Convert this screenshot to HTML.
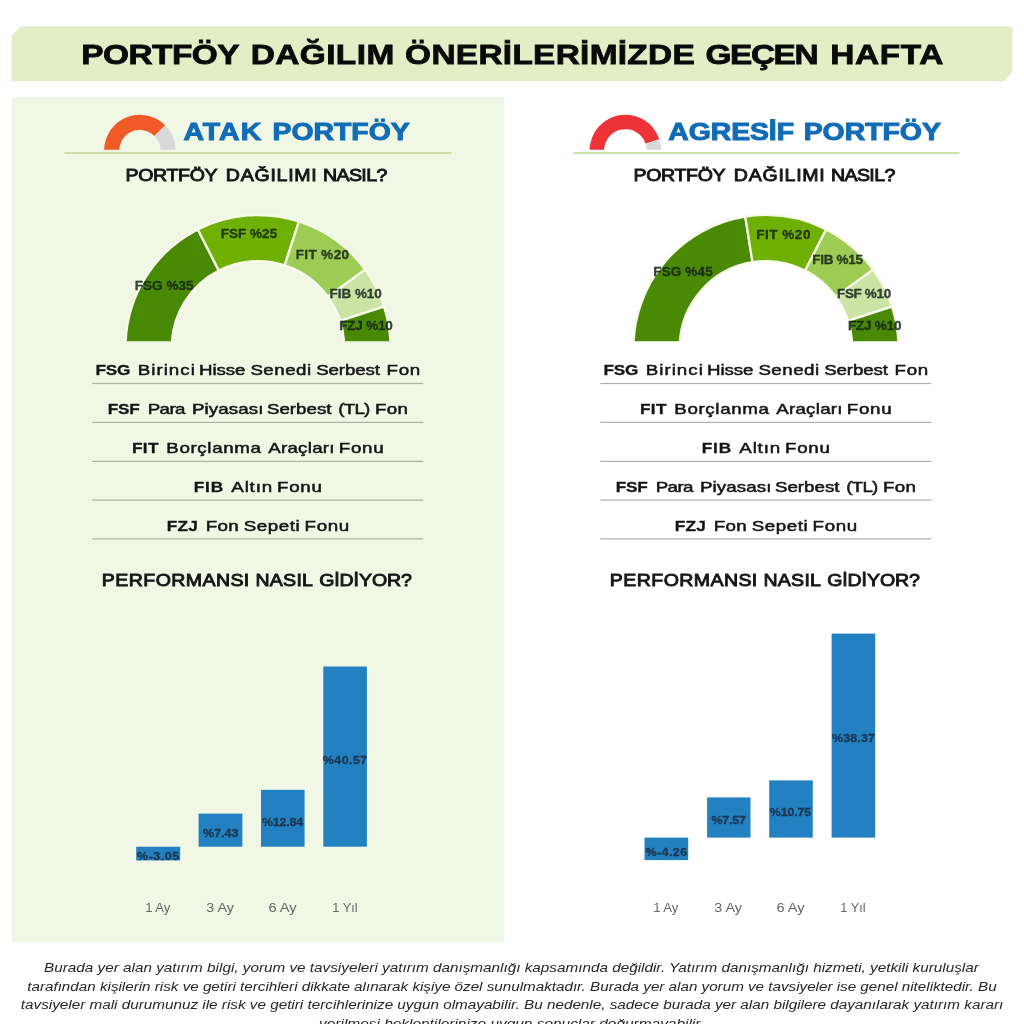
<!DOCTYPE html>
<html lang="tr"><head><meta charset="utf-8"><title>Portföy Dağılım Önerileri</title>
<style>html,body{margin:0;padding:0;background:#fff}body{width:1024px;height:1024px;overflow:hidden;position:relative}svg{display:block;position:absolute;left:0;top:0}text{font-family:"Liberation Sans",sans-serif;white-space:pre}</style></head><body>
<svg width="1024" height="1024" viewBox="0 0 1024 1024">
<polygon points="20.8,26.6 1012.6,26.6 1012.6,72.1 1003.4,81.3 11.6,81.3 11.6,35.8" fill="#e3eec6"/>
<rect x="11.5" y="96.8" width="492.8" height="845.8000000000001" fill="#f1f7e5"/>
<rect x="64.5" y="152.3" width="387" height="1.45" fill="#c0d88f"/>
<rect x="573" y="152.3" width="386.5" height="1.45" fill="#c0d88f"/>
<clipPath id="g1"><rect x="99.9" y="110.5" width="80" height="39.2"/></clipPath>
<g clip-path="url(#g1)">
<path d="M104.69,156.71 A35.75,35.75 0 0 1 165.18,125.22 L154.47,135.93 A20.6,20.6 0 0 0 119.61,154.08 Z" fill="#f05a27"/>
<path d="M165.18,125.22 A35.75,35.75 0 0 1 175.11,156.71 L160.19,154.08 A20.6,20.6 0 0 0 154.47,135.93 Z" fill="#d9d9d9"/>
</g>
<clipPath id="g2"><rect x="585.4" y="110.5" width="80" height="39.2"/></clipPath>
<g clip-path="url(#g2)">
<path d="M590.19,156.71 A35.75,35.75 0 0 1 659.30,139.16 L645.60,143.74 A21.3,21.3 0 0 0 604.42,154.20 Z" fill="#ee3338"/>
<path d="M659.30,139.16 A35.75,35.75 0 0 1 660.61,156.71 L646.38,154.20 A21.3,21.3 0 0 0 645.60,143.74 Z" fill="#d9d9d9"/>
</g>
<clipPath id="c1"><rect x="118" y="207.5" width="280" height="133.7"/></clipPath>
<g clip-path="url(#c1)" stroke="#f7fbec" stroke-width="2.3" stroke-linejoin="miter">
<path d="M125.50,347.50 A132.5,132.5 0 0 1 197.85,229.44 L218.82,270.61 A86.3,86.3 0 0 0 171.70,347.50 Z" fill="#4a8904"/>
<path d="M197.85,229.44 A132.5,132.5 0 0 1 298.94,221.49 L284.67,265.42 A86.3,86.3 0 0 0 218.82,270.61 Z" fill="#70b003"/>
<path d="M298.94,221.49 A132.5,132.5 0 0 1 365.19,269.62 L327.82,296.77 A86.3,86.3 0 0 0 284.67,265.42 Z" fill="#9dcb53"/>
<path d="M365.19,269.62 A132.5,132.5 0 0 1 384.01,306.56 L340.08,320.83 A86.3,86.3 0 0 0 327.82,296.77 Z" fill="#cce3a6"/>
<path d="M384.01,306.56 A132.5,132.5 0 0 1 390.50,347.50 L344.30,347.50 A86.3,86.3 0 0 0 340.08,320.83 Z" fill="#4a8904"/>
</g>
<clipPath id="c2"><rect x="626.0" y="207.5" width="280" height="133.7"/></clipPath>
<g clip-path="url(#c2)" stroke="#f7fbec" stroke-width="2.3" stroke-linejoin="miter">
<path d="M633.50,347.50 A132.5,132.5 0 0 1 745.27,216.63 L752.50,262.26 A86.3,86.3 0 0 0 679.70,347.50 Z" fill="#4a8904"/>
<path d="M745.27,216.63 A132.5,132.5 0 0 1 826.15,229.44 L805.18,270.61 A86.3,86.3 0 0 0 752.50,262.26 Z" fill="#70b003"/>
<path d="M826.15,229.44 A132.5,132.5 0 0 1 873.19,269.62 L835.82,296.77 A86.3,86.3 0 0 0 805.18,270.61 Z" fill="#9dcb53"/>
<path d="M873.19,269.62 A132.5,132.5 0 0 1 892.01,306.56 L848.08,320.83 A86.3,86.3 0 0 0 835.82,296.77 Z" fill="#cce3a6"/>
<path d="M892.01,306.56 A132.5,132.5 0 0 1 898.50,347.50 L852.30,347.50 A86.3,86.3 0 0 0 848.08,320.83 Z" fill="#4a8904"/>
</g>
<rect x="92.3" y="382.9" width="331" height="1.2" fill="#adb1a6"/>
<rect x="92.3" y="421.8" width="331" height="1.2" fill="#adb1a6"/>
<rect x="92.3" y="460.8" width="331" height="1.2" fill="#adb1a6"/>
<rect x="92.3" y="499.5" width="331" height="1.2" fill="#adb1a6"/>
<rect x="92.3" y="538.3" width="331" height="1.2" fill="#adb1a6"/>
<rect x="600.3" y="382.9" width="331" height="1.2" fill="#adb1a6"/>
<rect x="600.3" y="421.8" width="331" height="1.2" fill="#adb1a6"/>
<rect x="600.3" y="460.8" width="331" height="1.2" fill="#adb1a6"/>
<rect x="600.3" y="499.5" width="331" height="1.2" fill="#adb1a6"/>
<rect x="600.3" y="538.3" width="331" height="1.2" fill="#adb1a6"/>
<rect x="136.2" y="846.7" width="44.0" height="13.7" fill="#2481c1"/>
<rect x="198.6" y="813.6" width="43.8" height="33.1" fill="#2481c1"/>
<rect x="261.0" y="789.8" width="43.6" height="56.9" fill="#2481c1"/>
<rect x="323.3" y="666.5" width="43.6" height="180.2" fill="#2481c1"/>
<rect x="644.5" y="837.6" width="43.7" height="22.5" fill="#2481c1"/>
<rect x="707.1" y="797.4" width="43.4" height="40.2" fill="#2481c1"/>
<rect x="769.2" y="780.4" width="43.6" height="57.2" fill="#2481c1"/>
<rect x="831.6" y="633.6" width="43.6" height="204.0" fill="#2481c1"/>
<text transform="translate(81.34,63.80) scale(1.1700,1)" font-size="28.56" letter-spacing="-0.484" font-weight="bold" fill="#0a0a0a" stroke="#0a0a0a" stroke-width="0.8">PORTFÖY</text>
<text transform="translate(250.65,63.80) scale(1.1700,1)" font-size="28.56" letter-spacing="0.360" font-weight="bold" fill="#0a0a0a" stroke="#0a0a0a" stroke-width="0.8">DAĞILIM</text>
<text transform="translate(405.12,63.80) scale(1.1700,1)" font-size="28.56" letter-spacing="0.249" font-weight="bold" fill="#0a0a0a" stroke="#0a0a0a" stroke-width="0.8">ÖNERİLERİMİZDE</text>
<text transform="translate(705.52,63.80) scale(1.1700,1)" font-size="28.56" letter-spacing="-1.244" font-weight="bold" fill="#0a0a0a" stroke="#0a0a0a" stroke-width="0.8">GEÇEN</text>
<text transform="translate(830.25,63.80) scale(1.1700,1)" font-size="28.56" letter-spacing="0.488" font-weight="bold" fill="#0a0a0a" stroke="#0a0a0a" stroke-width="0.8">HAFTA</text>
<text transform="translate(183.40,140.40) scale(1.1700,1)" font-size="24.27" letter-spacing="0.893" font-weight="bold" fill="#116cb6" stroke="#116cb6" stroke-width="1.0">ATAK</text>
<text transform="translate(272.43,140.40) scale(1.1700,1)" font-size="24.27" letter-spacing="0.015" font-weight="bold" fill="#116cb6" stroke="#116cb6" stroke-width="1.0">PORTFÖY</text>
<text transform="translate(668.30,140.40) scale(1.1700,1)" font-size="24.27" letter-spacing="-0.068" font-weight="bold" fill="#116cb6" stroke="#116cb6" stroke-width="1.0">AGRESİF</text>
<text transform="translate(803.63,140.40) scale(1.1700,1)" font-size="24.27" font-weight="bold" fill="#116cb6" stroke="#116cb6" stroke-width="1.0">PORTFÖY</text>
<text transform="translate(125.47,181.25) scale(1.1300,1)" font-size="17.30" letter-spacing="-0.284" fill="#161616" stroke="#161616" stroke-width="0.9">PORTFÖY</text>
<text transform="translate(225.87,181.25) scale(1.1300,1)" font-size="17.30" letter-spacing="0.653" fill="#161616" stroke="#161616" stroke-width="0.9">DAĞILIMI</text>
<text transform="translate(322.97,181.25) scale(1.1300,1)" font-size="17.30" letter-spacing="-0.535" fill="#161616" stroke="#161616" stroke-width="0.9">NASIL?</text>
<text transform="translate(101.87,585.85) scale(1.1300,1)" font-size="17.30" letter-spacing="0.373" fill="#161616" stroke="#161616" stroke-width="0.9">PERFORMANSI</text>
<text transform="translate(255.47,585.85) scale(1.1300,1)" font-size="17.30" letter-spacing="0.224" fill="#161616" stroke="#161616" stroke-width="0.9">NASIL</text>
<text transform="translate(319.13,585.85) scale(1.1300,1)" font-size="17.30" letter-spacing="-0.071" fill="#161616" stroke="#161616" stroke-width="0.9">GİDİYOR?</text>
<text transform="translate(633.47,181.25) scale(1.1300,1)" font-size="17.30" letter-spacing="-0.284" fill="#161616" stroke="#161616" stroke-width="0.9">PORTFÖY</text>
<text transform="translate(733.87,181.25) scale(1.1300,1)" font-size="17.30" letter-spacing="0.653" fill="#161616" stroke="#161616" stroke-width="0.9">DAĞILIMI</text>
<text transform="translate(830.97,181.25) scale(1.1300,1)" font-size="17.30" letter-spacing="-0.535" fill="#161616" stroke="#161616" stroke-width="0.9">NASIL?</text>
<text transform="translate(609.87,585.85) scale(1.1300,1)" font-size="17.30" letter-spacing="0.373" fill="#161616" stroke="#161616" stroke-width="0.9">PERFORMANSI</text>
<text transform="translate(763.47,585.85) scale(1.1300,1)" font-size="17.30" letter-spacing="0.224" fill="#161616" stroke="#161616" stroke-width="0.9">NASIL</text>
<text transform="translate(827.13,585.85) scale(1.1300,1)" font-size="17.30" letter-spacing="-0.071" fill="#161616" stroke="#161616" stroke-width="0.9">GİDİYOR?</text>
<text transform="translate(134.84,289.85) scale(1.0200,1)" font-size="13.23" letter-spacing="0.020" font-weight="bold" fill="#16261a" fill-opacity="0.86" stroke="#16261a" stroke-width="0.3">FSG %35</text>
<text transform="translate(220.84,238.15) scale(1.0200,1)" font-size="13.23" letter-spacing="0.011" font-weight="bold" fill="#16261a" fill-opacity="0.86" stroke="#16261a" stroke-width="0.3">FSF %25</text>
<text transform="translate(295.63,258.65) scale(1.0200,1)" font-size="13.23" letter-spacing="0.404" font-weight="bold" fill="#16261a" fill-opacity="0.86" stroke="#16261a" stroke-width="0.3">FIT %20</text>
<text transform="translate(329.44,297.65) scale(1.0200,1)" font-size="13.23" letter-spacing="-0.009" font-weight="bold" fill="#16261a" fill-opacity="0.86" stroke="#16261a" stroke-width="0.3">FIB %10</text>
<text transform="translate(339.24,330.45) scale(1.0200,1)" font-size="13.23" letter-spacing="-0.188" font-weight="bold" fill="#16261a" fill-opacity="0.86" stroke="#16261a" stroke-width="0.3">FZJ %10</text>
<text transform="translate(653.24,275.75) scale(1.0200,1)" font-size="13.23" letter-spacing="0.151" font-weight="bold" fill="#16261a" fill-opacity="0.86" stroke="#16261a" stroke-width="0.3">FSG %45</text>
<text transform="translate(756.34,239.45) scale(1.0200,1)" font-size="13.23" letter-spacing="0.502" font-weight="bold" fill="#16261a" fill-opacity="0.86" stroke="#16261a" stroke-width="0.3">FIT %20</text>
<text transform="translate(812.24,263.85) scale(1.0200,1)" font-size="13.23" letter-spacing="-0.279" font-weight="bold" fill="#16261a" fill-opacity="0.86" stroke="#16261a" stroke-width="0.3">FIB %15</text>
<text transform="translate(837.03,297.95) scale(1.0200,1)" font-size="13.23" letter-spacing="-0.340" font-weight="bold" fill="#16261a" fill-opacity="0.86" stroke="#16261a" stroke-width="0.3">FSF %10</text>
<text transform="translate(848.03,330.45) scale(1.0200,1)" font-size="13.23" letter-spacing="-0.221" font-weight="bold" fill="#16261a" fill-opacity="0.86" stroke="#16261a" stroke-width="0.3">FZJ %10</text>
<text transform="translate(95.46,375.05) scale(1.1200,1)" font-size="15.41" letter-spacing="-0.179" font-weight="bold" fill="#141414" stroke="#141414" stroke-width="0.3">FSG</text>
<text transform="translate(137.76,374.95) scale(1.2400,1)" font-size="15.12" letter-spacing="0.817" fill="#141414" stroke="#141414" stroke-width="0.5">Birinci</text>
<text transform="translate(199.06,374.95) scale(1.2400,1)" font-size="15.12" letter-spacing="-0.091" fill="#141414" stroke="#141414" stroke-width="0.5">Hisse</text>
<text transform="translate(250.38,374.95) scale(1.2400,1)" font-size="15.12" letter-spacing="0.382" fill="#141414" stroke="#141414" stroke-width="0.5">Senedi</text>
<text transform="translate(316.13,374.95) scale(1.2400,1)" font-size="15.12" letter-spacing="-0.083" fill="#141414" stroke="#141414" stroke-width="0.5">Serbest</text>
<text transform="translate(386.56,374.95) scale(1.2400,1)" font-size="15.12" letter-spacing="0.577" fill="#141414" stroke="#141414" stroke-width="0.5">Fon</text>
<text transform="translate(107.66,413.98) scale(1.1200,1)" font-size="15.41" letter-spacing="-0.161" font-weight="bold" fill="#141414" stroke="#141414" stroke-width="0.3">FSF</text>
<text transform="translate(147.66,413.88) scale(1.2400,1)" font-size="15.12" letter-spacing="-0.457" fill="#141414" stroke="#141414" stroke-width="0.5">Para</text>
<text transform="translate(192.01,413.88) scale(1.2400,1)" font-size="15.12" letter-spacing="0.063" fill="#141414" stroke="#141414" stroke-width="0.5">Piyasası</text>
<text transform="translate(266.88,413.88) scale(1.2400,1)" font-size="15.12" letter-spacing="0.004" fill="#141414" stroke="#141414" stroke-width="0.5">Serbest</text>
<text transform="translate(338.27,413.88) scale(1.2400,1)" font-size="15.12" letter-spacing="-0.605" fill="#141414" stroke="#141414" stroke-width="0.5">(TL)</text>
<text transform="translate(374.96,413.88) scale(1.2400,1)" font-size="15.12" letter-spacing="0.254" fill="#141414" stroke="#141414" stroke-width="0.5">Fon</text>
<text transform="translate(131.96,452.91) scale(1.1200,1)" font-size="15.41" letter-spacing="0.304" font-weight="bold" fill="#141414" stroke="#141414" stroke-width="0.3">FIT</text>
<text transform="translate(166.26,452.81) scale(1.2400,1)" font-size="15.12" letter-spacing="0.518" fill="#141414" stroke="#141414" stroke-width="0.5">Borçlanma</text>
<text transform="translate(268.21,452.81) scale(1.2400,1)" font-size="15.12" letter-spacing="0.202" fill="#141414" stroke="#141414" stroke-width="0.5">Araçları</text>
<text transform="translate(338.76,452.81) scale(1.2400,1)" font-size="15.12" letter-spacing="0.589" fill="#141414" stroke="#141414" stroke-width="0.5">Fonu</text>
<text transform="translate(193.66,491.84) scale(1.1200,1)" font-size="15.41" letter-spacing="0.795" font-weight="bold" fill="#141414" stroke="#141414" stroke-width="0.3">FIB</text>
<text transform="translate(231.31,491.74) scale(1.2400,1)" font-size="15.12" letter-spacing="0.667" fill="#141414" stroke="#141414" stroke-width="0.5">Altın</text>
<text transform="translate(276.96,491.74) scale(1.2400,1)" font-size="15.12" letter-spacing="0.616" fill="#141414" stroke="#141414" stroke-width="0.5">Fonu</text>
<text transform="translate(166.66,530.77) scale(1.1200,1)" font-size="15.41" letter-spacing="0.250" font-weight="bold" fill="#141414" stroke="#141414" stroke-width="0.3">FZJ</text>
<text transform="translate(205.76,530.67) scale(1.2400,1)" font-size="15.12" letter-spacing="0.254" fill="#141414" stroke="#141414" stroke-width="0.5">Fon</text>
<text transform="translate(243.68,530.67) scale(1.2400,1)" font-size="15.12" letter-spacing="0.458" fill="#141414" stroke="#141414" stroke-width="0.5">Sepeti</text>
<text transform="translate(304.51,530.67) scale(1.2400,1)" font-size="15.12" letter-spacing="0.548" fill="#141414" stroke="#141414" stroke-width="0.5">Fonu</text>
<text transform="translate(603.46,375.05) scale(1.1200,1)" font-size="15.41" letter-spacing="-0.179" font-weight="bold" fill="#141414" stroke="#141414" stroke-width="0.3">FSG</text>
<text transform="translate(645.76,374.95) scale(1.2400,1)" font-size="15.12" letter-spacing="0.817" fill="#141414" stroke="#141414" stroke-width="0.5">Birinci</text>
<text transform="translate(707.06,374.95) scale(1.2400,1)" font-size="15.12" letter-spacing="-0.091" fill="#141414" stroke="#141414" stroke-width="0.5">Hisse</text>
<text transform="translate(758.38,374.95) scale(1.2400,1)" font-size="15.12" letter-spacing="0.382" fill="#141414" stroke="#141414" stroke-width="0.5">Senedi</text>
<text transform="translate(824.13,374.95) scale(1.2400,1)" font-size="15.12" letter-spacing="-0.083" fill="#141414" stroke="#141414" stroke-width="0.5">Serbest</text>
<text transform="translate(894.56,374.95) scale(1.2400,1)" font-size="15.12" letter-spacing="0.577" fill="#141414" stroke="#141414" stroke-width="0.5">Fon</text>
<text transform="translate(639.96,413.98) scale(1.1200,1)" font-size="15.41" letter-spacing="0.304" font-weight="bold" fill="#141414" stroke="#141414" stroke-width="0.3">FIT</text>
<text transform="translate(674.26,413.88) scale(1.2400,1)" font-size="15.12" letter-spacing="0.518" fill="#141414" stroke="#141414" stroke-width="0.5">Borçlanma</text>
<text transform="translate(776.21,413.88) scale(1.2400,1)" font-size="15.12" letter-spacing="0.202" fill="#141414" stroke="#141414" stroke-width="0.5">Araçları</text>
<text transform="translate(846.76,413.88) scale(1.2400,1)" font-size="15.12" letter-spacing="0.589" fill="#141414" stroke="#141414" stroke-width="0.5">Fonu</text>
<text transform="translate(701.66,452.91) scale(1.1200,1)" font-size="15.41" letter-spacing="0.795" font-weight="bold" fill="#141414" stroke="#141414" stroke-width="0.3">FIB</text>
<text transform="translate(739.31,452.81) scale(1.2400,1)" font-size="15.12" letter-spacing="0.667" fill="#141414" stroke="#141414" stroke-width="0.5">Altın</text>
<text transform="translate(784.96,452.81) scale(1.2400,1)" font-size="15.12" letter-spacing="0.616" fill="#141414" stroke="#141414" stroke-width="0.5">Fonu</text>
<text transform="translate(615.66,491.84) scale(1.1200,1)" font-size="15.41" letter-spacing="-0.161" font-weight="bold" fill="#141414" stroke="#141414" stroke-width="0.3">FSF</text>
<text transform="translate(655.66,491.74) scale(1.2400,1)" font-size="15.12" letter-spacing="-0.457" fill="#141414" stroke="#141414" stroke-width="0.5">Para</text>
<text transform="translate(700.01,491.74) scale(1.2400,1)" font-size="15.12" letter-spacing="0.063" fill="#141414" stroke="#141414" stroke-width="0.5">Piyasası</text>
<text transform="translate(774.88,491.74) scale(1.2400,1)" font-size="15.12" letter-spacing="0.004" fill="#141414" stroke="#141414" stroke-width="0.5">Serbest</text>
<text transform="translate(846.27,491.74) scale(1.2400,1)" font-size="15.12" letter-spacing="-0.605" fill="#141414" stroke="#141414" stroke-width="0.5">(TL)</text>
<text transform="translate(882.96,491.74) scale(1.2400,1)" font-size="15.12" letter-spacing="0.254" fill="#141414" stroke="#141414" stroke-width="0.5">Fon</text>
<text transform="translate(674.66,530.77) scale(1.1200,1)" font-size="15.41" letter-spacing="0.250" font-weight="bold" fill="#141414" stroke="#141414" stroke-width="0.3">FZJ</text>
<text transform="translate(713.76,530.67) scale(1.2400,1)" font-size="15.12" letter-spacing="0.254" fill="#141414" stroke="#141414" stroke-width="0.5">Fon</text>
<text transform="translate(751.68,530.67) scale(1.2400,1)" font-size="15.12" letter-spacing="0.458" fill="#141414" stroke="#141414" stroke-width="0.5">Sepeti</text>
<text transform="translate(812.51,530.67) scale(1.2400,1)" font-size="15.12" letter-spacing="0.548" fill="#141414" stroke="#141414" stroke-width="0.5">Fonu</text>
<text transform="translate(137.04,859.75) scale(1.0600,1)" font-size="11.77" letter-spacing="0.499" font-weight="bold" fill="#1b2f45" fill-opacity="0.88" stroke="#1b2f45" stroke-width="0.3">%-3.05</text>
<text transform="translate(203.04,837.15) scale(1.0600,1)" font-size="11.77" letter-spacing="0.020" font-weight="bold" fill="#1b2f45" fill-opacity="0.88" stroke="#1b2f45" stroke-width="0.3">%7.43</text>
<text transform="translate(261.94,825.65) scale(1.0600,1)" font-size="11.77" letter-spacing="-0.195" font-weight="bold" fill="#1b2f45" fill-opacity="0.88" stroke="#1b2f45" stroke-width="0.3">%12.84</text>
<text transform="translate(322.84,763.95) scale(1.0600,1)" font-size="11.77" letter-spacing="0.395" font-weight="bold" fill="#1b2f45" fill-opacity="0.88" stroke="#1b2f45" stroke-width="0.3">%40.57</text>
<text transform="translate(645.44,855.95) scale(1.0600,1)" font-size="11.77" letter-spacing="0.424" font-weight="bold" fill="#1b2f45" fill-opacity="0.88" stroke="#1b2f45" stroke-width="0.3">%-4.26</text>
<text transform="translate(711.44,824.25) scale(1.0600,1)" font-size="11.77" letter-spacing="-0.192" font-weight="bold" fill="#1b2f45" fill-opacity="0.88" stroke="#1b2f45" stroke-width="0.3">%7.57</text>
<text transform="translate(769.84,815.95) scale(1.0600,1)" font-size="11.77" letter-spacing="-0.183" font-weight="bold" fill="#1b2f45" fill-opacity="0.88" stroke="#1b2f45" stroke-width="0.3">%10.75</text>
<text transform="translate(831.94,742.05) scale(1.0600,1)" font-size="11.77" letter-spacing="0.150" font-weight="bold" fill="#1b2f45" fill-opacity="0.88" stroke="#1b2f45" stroke-width="0.3">%38.37</text>
<text transform="translate(145.17,912.40) scale(1.0255,1)" font-size="12.79" fill="#666">1 Ay</text>
<text transform="translate(206.24,912.40) scale(1.1250,1)" font-size="12.79" fill="#666">3 Ay</text>
<text transform="translate(268.44,912.40) scale(1.1453,1)" font-size="12.79" fill="#666">6 Ay</text>
<text transform="translate(332.30,912.40) scale(0.9957,1)" font-size="12.79" fill="#666">1 Yıl</text>
<text transform="translate(653.17,912.40) scale(1.0255,1)" font-size="12.79" fill="#666">1 Ay</text>
<text transform="translate(714.24,912.40) scale(1.1250,1)" font-size="12.79" fill="#666">3 Ay</text>
<text transform="translate(776.44,912.40) scale(1.1453,1)" font-size="12.79" fill="#666">6 Ay</text>
<text transform="translate(840.30,912.40) scale(0.9957,1)" font-size="12.79" fill="#666">1 Yıl</text>
<text transform="translate(44.03,971.90) scale(1.1311,1)" font-size="13.52" font-style="italic" fill="#262626">Burada yer alan yatırım bilgi, yorum ve tavsiyeleri yatırım danışmanlığı kapsamında değildir. Yatırım danışmanlığı hizmeti, yetkili kuruluşlar</text>
<text transform="translate(27.24,990.70) scale(1.1255,1)" font-size="13.52" font-style="italic" fill="#262626">tarafından kişilerin risk ve getiri tercihleri dikkate alınarak kişiye özel sunulmaktadır. Burada yer alan yorum ve tavsiyeler ise genel niteliktedir. Bu</text>
<text transform="translate(20.83,1009.40) scale(1.1304,1)" font-size="13.52" font-style="italic" fill="#262626">tavsiyeler mali durumunuz ile risk ve getiri tercihlerinize uygun olmayabilir. Bu nedenle, sadece burada yer alan bilgilere dayanılarak yatırım kararı</text>
<text transform="translate(319.04,1028.20) scale(1.1406,1)" font-size="13.52" font-style="italic" fill="#262626">verilmesi beklentilerinize uygun sonuçlar doğurmayabilir.</text>
</svg></body></html>
